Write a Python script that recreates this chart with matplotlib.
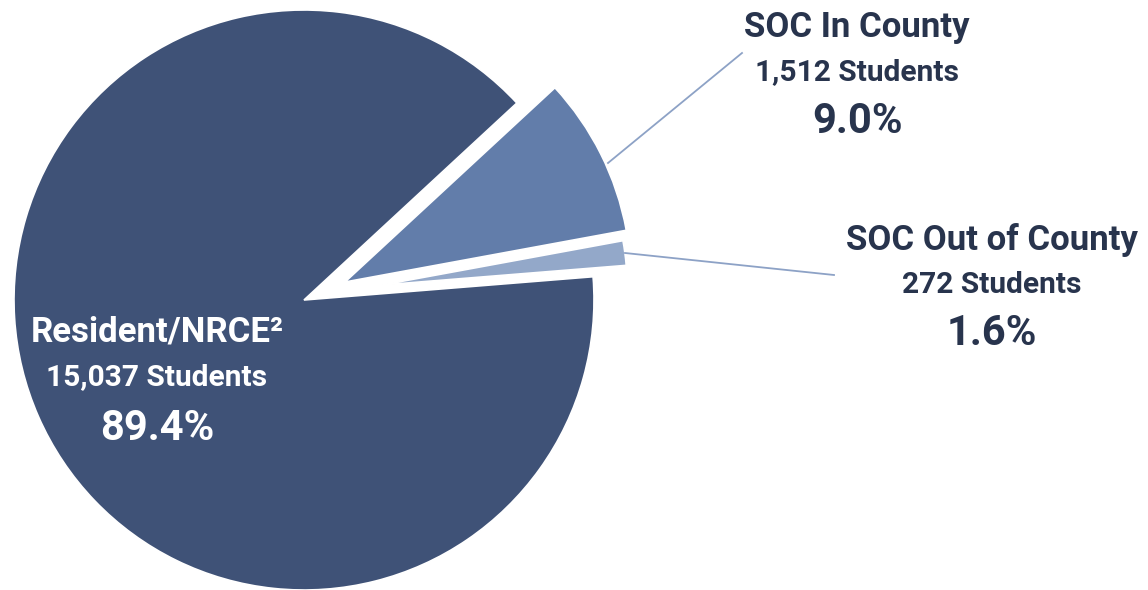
import matplotlib.pyplot as plt

# slice data (counter-clockwise from the right side)
labels = ['SOC Out of County', 'SOC In County', 'Resident/NRCE²']
students = [272, 1512, 15037]
pct_labels = ['1.6%', '9.0%', '89.4%']
colors = ['#93A8C9', '#627DAA', '#3F5277']

W, H = 1148, 590
plt.rcParams['font.family'] = ['Roboto', 'DejaVu Sans']

fig = plt.figure(figsize=(W / 100, H / 100), dpi=100)
ax = fig.add_axes([0, 0, 1, 1])


def py(y):
    # pixel row -> data y
    return H - y


wedges, _ = ax.pie(students, colors=colors, startangle=4.6,
                   counterclock=True, radius=290, center=(304, py(300)),
                   wedgeprops=dict(edgecolor='white', linewidth=1.2), frame=True)
# pulled-out slices: shifted apex and a slightly shorter radius, as in the original
wedges[0].set_center((382, py(285)))
wedges[0].set_radius(245)
wedges[1].set_center((345, py(282)))
wedges[1].set_radius(286)

ax.set_xlim(0, W)
ax.set_ylim(0, H)
ax.set_aspect('equal')
ax.axis('off')

# leader lines
line_col = '#8DA2C6'
ax.plot([608, 742], [py(163), py(53)], color=line_col, lw=1.3)
ax.plot([625, 834], [py(253), py(275)], color=line_col, lw=1.3)

dark = '#28344D'
text_pos = [(992, 250, 293, 345, dark), (857, 37, 80, 133, dark),
            (157, 342, 385, 440, 'white')]
for lab, n, pct, (x, y1, y2, y3, c) in zip(labels, students, pct_labels, text_pos):
    ax.text(x, py(y1), lab, ha='center', va='baseline', fontsize=25,
            fontweight='bold', color=c)
    ax.text(x, py(y2), f'{n:,} Students', ha='center', va='baseline',
            fontsize=21.5, fontweight='bold', color=c)
    ax.text(x, py(y3), pct, ha='center', va='baseline', fontsize=30,
            fontweight='bold', color=c)

fig.savefig('out.png', dpi=100)
